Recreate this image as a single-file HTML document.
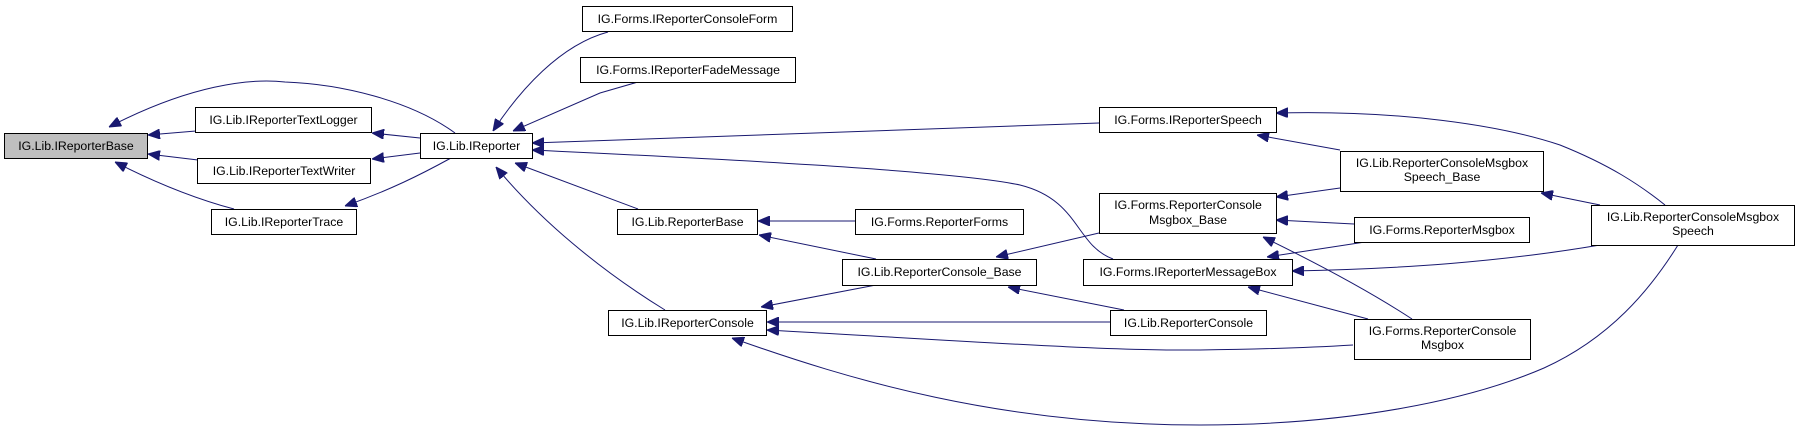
<!DOCTYPE html>
<html><head><meta charset="utf-8"><style>
html,body{margin:0;padding:0;background:#fff;}
svg{display:block;}
text{font-family:"Liberation Sans",Arial,sans-serif;font-size:12.3px;fill:#000;text-anchor:middle;}
rect{fill:#fff;stroke:#000;stroke-width:1;}
path.e{fill:none;stroke:#191970;stroke-width:1;}
</style></head><body>
<svg width="1799" height="432" viewBox="0 0 1799 432" xmlns="http://www.w3.org/2000/svg">
<defs>
<marker id="a" viewBox="0 0 12 10" refX="12" refY="5" markerWidth="12" markerHeight="10" markerUnits="userSpaceOnUse" orient="auto-start-reverse">
<path d="M0,0 L12,5 L0,10 z" fill="#191970" stroke="#191970"/>
</marker>
</defs>
<g marker-start="url(#a)">
<path class="e" d="M109,127 C190,85 250,78 285,82 C340,84 410,100 455,133"/>
<path class="e" d="M148,135 L196,131"/>
<path class="e" d="M148,154 L198,160"/>
<path class="e" d="M115,162 C160,185 200,200 234,209"/>
<path class="e" d="M372,133 L420,138"/>
<path class="e" d="M372,159 L420,153"/>
<path class="e" d="M345,206 C390,190 420,175 451,158"/>
<path class="e" d="M493,131 C520,90 560,45 608,32"/>
<path class="e" d="M513,131 L600,93 L638,82"/>
<path class="e" d="M532,143 L1099,123"/>
<path class="e" d="M532,150 C700,158 950,170 1020,185 C1080,200 1075,245 1113,259"/>
<path class="e" d="M515,163 L638,209"/>
<path class="e" d="M496,167 C540,220 600,270 665,310"/>
<path class="e" d="M758,221 L855,221"/>
<path class="e" d="M759,235 L876,259"/>
<path class="e" d="M761,307 L876,285"/>
<path class="e" d="M996,257 L1099,233"/>
<path class="e" d="M1008,287 L1124,310"/>
<path class="e" d="M767,322 L1110,322"/>
<path class="e" d="M767,330 C950,340 1100,351 1200,350 C1280,349 1320,347 1353,345"/>
<path class="e" d="M732,338 C850,380 1000,425 1200,425 C1350,425 1470,400 1544,368 C1610,338 1650,290 1678,245"/>
<path class="e" d="M1257,135 L1340,150"/>
<path class="e" d="M1276,197 L1340,188"/>
<path class="e" d="M1276,220 L1354,224"/>
<path class="e" d="M1267,257 L1365,242"/>
<path class="e" d="M1292,271 C1400,269 1500,262 1600,245"/>
<path class="e" d="M1263,237 C1300,255 1360,285 1412,319"/>
<path class="e" d="M1248,287 L1368,319"/>
<path class="e" d="M1276,113 C1400,110 1500,125 1560,145 C1610,165 1640,185 1665,205"/>
<path class="e" d="M1541,193 L1600,205"/>
</g>
<rect x="4.5" y="133.5" width="143" height="25" style="fill:#bfbfbf"/><text x="76" y="150">IG.Lib.IReporterBase</text>
<rect x="195.5" y="107.5" width="176" height="25"/><text x="283.5" y="124">IG.Lib.IReporterTextLogger</text>
<rect x="197.5" y="158.5" width="173" height="25"/><text x="284" y="175">IG.Lib.IReporterTextWriter</text>
<rect x="211.5" y="209.5" width="145" height="25"/><text x="284" y="226">IG.Lib.IReporterTrace</text>
<rect x="420.5" y="133.5" width="112" height="25"/><text x="476.5" y="150">IG.Lib.IReporter</text>
<rect x="582.5" y="6.5" width="210" height="25"/><text x="687.5" y="23">IG.Forms.IReporterConsoleForm</text>
<rect x="580.5" y="57.5" width="215" height="25"/><text x="688" y="74">IG.Forms.IReporterFadeMessage</text>
<rect x="1099.5" y="107.5" width="177" height="25"/><text x="1188" y="124">IG.Forms.IReporterSpeech</text>
<rect x="617.5" y="209.5" width="140" height="25"/><text x="687.5" y="226">IG.Lib.ReporterBase</text>
<rect x="855.5" y="209.5" width="168" height="25"/><text x="939.5" y="226">IG.Forms.ReporterForms</text>
<rect x="842.5" y="259.5" width="194" height="26"/><text x="939.5" y="276">IG.Lib.ReporterConsole_Base</text>
<rect x="608.5" y="310.5" width="158" height="25"/><text x="687.5" y="327">IG.Lib.IReporterConsole</text>
<rect x="1099.5" y="193.5" width="177" height="40"/><text x="1188" y="209">IG.Forms.ReporterConsole</text><text x="1188" y="224">Msgbox_Base</text>
<rect x="1083.5" y="259.5" width="209" height="26"/><text x="1188" y="276">IG.Forms.IReporterMessageBox</text>
<rect x="1110.5" y="310.5" width="156" height="25"/><text x="1188.5" y="327">IG.Lib.ReporterConsole</text>
<rect x="1340.5" y="151.5" width="203" height="40"/><text x="1442" y="167">IG.Lib.ReporterConsoleMsgbox</text><text x="1442" y="181">Speech_Base</text>
<rect x="1354.5" y="217.5" width="175" height="25"/><text x="1442" y="234">IG.Forms.ReporterMsgbox</text>
<rect x="1354.5" y="319.5" width="176" height="40"/><text x="1442.5" y="335">IG.Forms.ReporterConsole</text><text x="1442.5" y="349">Msgbox</text>
<rect x="1591.5" y="205.5" width="203" height="40"/><text x="1693" y="221">IG.Lib.ReporterConsoleMsgbox</text><text x="1693" y="235">Speech</text>
</svg>
</body></html>
